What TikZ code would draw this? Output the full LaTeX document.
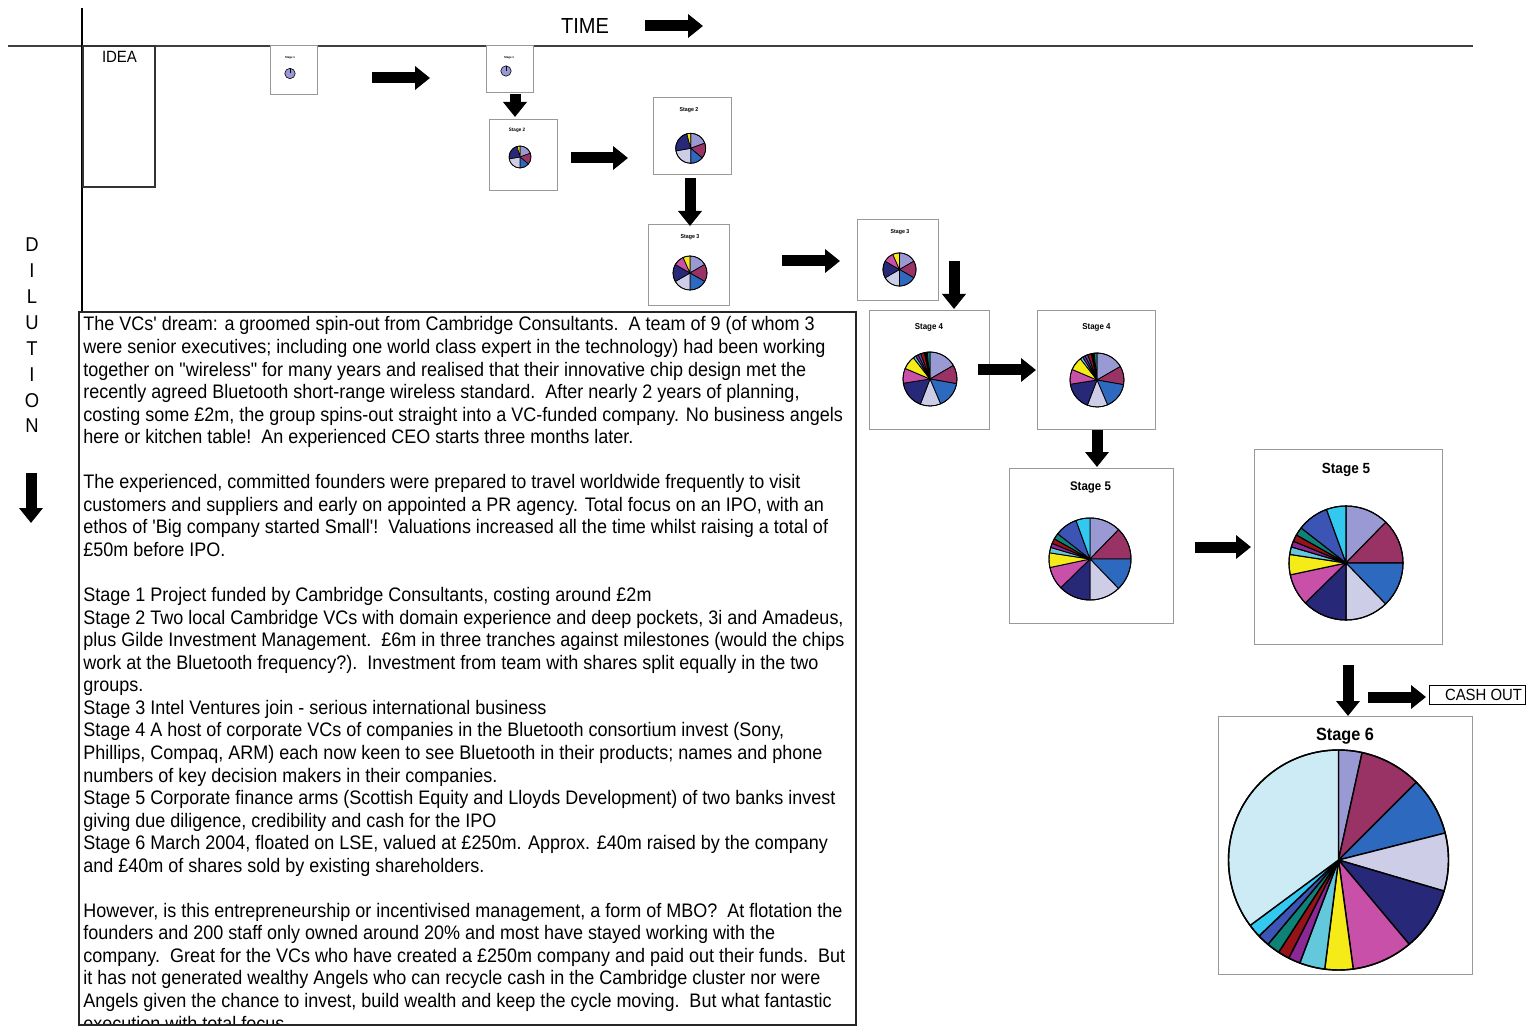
\documentclass[tikz,border=0pt]{standalone}
\usepackage{fontspec}
\setmainfont{Liberation Sans}[FakeStretch=0.92, Ligatures=TeXOff]
\usetikzlibrary{arrows.meta}
\definecolor{cA}{RGB}{153,153,212}
\definecolor{cB}{RGB}{153,51,102}
\definecolor{cC}{RGB}{45,105,190}
\definecolor{cD}{RGB}{205,205,232}
\definecolor{cE}{RGB}{40,40,120}
\definecolor{cF}{RGB}{200,80,168}
\definecolor{cG}{RGB}{245,235,25}
\definecolor{cH}{RGB}{100,200,220}
\definecolor{cI}{RGB}{140,40,150}
\definecolor{cJ}{RGB}{150,20,25}
\definecolor{cK}{RGB}{15,130,120}
\definecolor{cL}{RGB}{60,85,180}
\definecolor{cM}{RGB}{50,200,240}
\definecolor{cN}{RGB}{205,235,245}
\tikzset{
  stbox/.style={draw=black!40, line width=0.5pt, fill=white, inner sep=0pt},
  blk/.style={line width=5.5pt, -{Triangle[length=7.5pt,width=11.5pt]}},
  stlab/.style={inner sep=0pt, font=\bfseries\fontsize{#1}{#1}\selectfont},
  dil/.style={inner sep=0pt, font=\fontsize{10}{12}\selectfont},
  bodyline/.style={anchor=base west, inner sep=0pt, font=\fontsize{9.78}{11.27}\selectfont},
}
\newcommand\drawpie[4]{%
  \foreach \s/\e/\pc in #3 {%
    \filldraw[fill=\pc, draw=black, line width=#4, line join=round] (#1) -- ++(\s:#2) arc[start angle=\s, end angle=\e, radius=#2] -- cycle;
  }%
  \draw[line width=#4] (#1) circle[radius=#2];%
}
\def\pieSix{90/77.6/cA,77.6/45/cB,45/14.2/cC,14.2/-16.4/cD,-16.4/-50/cE,-50/-82.3/cF,-82.3/-97.2/cG,-97.2/-110.6/cH,-110.6/-116.9/cI,-116.9/-123/cJ,-123/-129.9/cK,-129.9/-136.3/cL,-136.3/-143.5/cM,-143.5/-270/cN}
\def\pieFive{90/45.7/cA,45.7/0/cB,0/-46/cC,-46/-90/cD,-90/-135.5/cE,-135.5/-168/cF,-168/-188.7/cG,-188.7/-196.4/cH,-196.4/-202.5/cI,-202.5/-209.5/cJ,-209.5/-218/cK,-218/-250/cL,-250/-270/cM}
\def\pieFour{90/30/cA,30/-10/cB,-10/-67/cC,-67/-111/cD,-111/-171/cE,-171/-203/cF,-203/-232/cG,-232/-238/cH,-238/-244/cI,-244/-250/cL,-250/-258/cJ,-258/-264/black,-264/-270/cK}
\def\pieThree{90/30/cA,30/-30/cB,-30/-90/cC,-90/-150/cD,-150/-210/cE,-210/-246/cF,-246/-270/cG}
\def\pieTwo{90/20/cA,20/-40/cB,-40/-90/cC,-90/-170/cD,-170/-255/cE,-255/-270/cG}
\begin{document}
\begin{tikzpicture}[x=0.5pt,y=-0.5pt]
\useasboundingbox[fill=white] (0,0) rectangle (1527,1027);

% axes
\coordinate (hl1) at (8,46);
\coordinate (hl2) at (1473,46);
\coordinate (vl1) at (82,8);
\coordinate (vl2) at (82,312);
\draw[line width=1pt, black!75] (hl1) -- (hl2);
\draw[line width=1pt, black] (vl1) -- (vl2);

% TIME
\node[inner sep=0pt, font=\fontsize{10.9}{13}\selectfont] (time) at (585,26) {TIME};
\coordinate (ta1) at (645,26);
\coordinate (ta2) at (703,26);
\draw[blk] (ta1) -- (ta2);

% DILUTION
\foreach \l [count=\i] in {D,I,L,U,T,I,O,N}
  \node[dil] (dil\i) at (32,{245+25.86*(\i-1)}) {\l};
\coordinate (da1) at (31,473);
\coordinate (da2) at (31,523);
\draw[blk] (da1) -- (da2);

% IDEA box
\node[draw=black!80, line width=0.6pt, inner sep=0pt, minimum width=36pt, minimum height=70.5pt] (idea) at (119,116.5) {};
\node[inner sep=0pt, font=\fontsize{8.15}{10}\selectfont] (ideaL) at (119.5,57) {IDEA};

% stage boxes
\node[stbox, minimum width=23.5pt, minimum height=24.5pt] (S1a) at (293.5,70.5) {};
\node[stbox, minimum width=23.5pt, minimum height=23.5pt] (S1b) at (509.5,69.5) {};
\node[stbox, minimum width=34pt, minimum height=35.5pt] (S2a) at (523,155.5) {};
\node[stbox, minimum width=39pt, minimum height=38.5pt] (S2b) at (692,136.5) {};
\node[stbox, minimum width=40.5pt, minimum height=40.5pt] (S3a) at (688.5,265.5) {};
\node[stbox, minimum width=40.5pt, minimum height=40.5pt] (S3b) at (897.5,260.5) {};
\node[stbox, minimum width=60pt, minimum height=59pt] (S4a) at (929,370) {};
\node[stbox, minimum width=59pt, minimum height=59pt] (S4b) at (1096,370) {};
\node[stbox, minimum width=82pt, minimum height=77.5pt] (S5a) at (1091,545.5) {};
\node[stbox, minimum width=94pt, minimum height=97.5pt] (S5b) at (1348,546.5) {};
\node[stbox, minimum width=127pt, minimum height=129pt] (S6) at (1345,845) {};

% stage labels
\node[stlab=1.5] (S1aL) at (290,58) {Stage 1};
\node[stlab=1.5] (S1bL) at (509,57.5) {Stage 1};
\node[stlab=2.45] (S2aL) at (517,130) {Stage 2};
\node[stlab=2.85] (S2bL) at (689,110) {Stage 2};
\node[stlab=2.85] (S3aL) at (690,237) {Stage 3};
\node[stlab=2.85] (S3bL) at (900,232.5) {Stage 3};
\node[stlab=4.3] (S4aL) at (929,327) {Stage 4};
\node[stlab=4.3] (S4bL) at (1096.5,327) {Stage 4};
\node[stlab=6.25] (S5aL) at (1090.5,487) {Stage 5};
\node[stlab=7.35] (S5bL) at (1346,470) {Stage 5};
\node[stlab=8.85] (S6L) at (1345,736) {Stage 6};

% pies
\coordinate (p1a) at (290,73.5);
\coordinate (p1b) at (506,71);
\coordinate (p2a) at (520,157);
\coordinate (p2b) at (690.7,148.3);
\coordinate (p3a) at (690,273);
\coordinate (p3b) at (899.5,269.5);
\coordinate (p4a) at (930,379);
\coordinate (p4b) at (1097,380);
\coordinate (p5a) at (1090,559);
\coordinate (p5b) at (1346,563);
\coordinate (p6) at (1338.5,860);
\filldraw[fill=cA, line width=0.3pt] (p1a) circle[radius=2.6pt];
\draw[line width=0.3pt] (p1a) -- ++(90:2.6pt);
\filldraw[fill=cA, line width=0.3pt] (p1b) circle[radius=2.6pt];
\draw[line width=0.3pt] (p1b) -- ++(90:2.6pt);
\drawpie{p2a}{5.5pt}{\pieTwo}{0.3pt}
\drawpie{p2b}{7.5pt}{\pieTwo}{0.35pt}
\drawpie{p3a}{8.5pt}{\pieThree}{0.35pt}
\drawpie{p3b}{8.3pt}{\pieThree}{0.35pt}
\drawpie{p4a}{13.5pt}{\pieFour}{0.4pt}
\drawpie{p4b}{13.5pt}{\pieFour}{0.4pt}
\drawpie{p5a}{20.5pt}{\pieFive}{0.45pt}
\drawpie{p5b}{28.5pt}{\pieFive}{0.55pt}
\drawpie{p6}{55pt}{\pieSix}{0.7pt}

% flow arrows
\coordinate (a1s) at (372,78);   \coordinate (a1e) at (430,78);
\coordinate (a2s) at (515,94);   \coordinate (a2e) at (515,117);
\coordinate (a3s) at (571,158);  \coordinate (a3e) at (628,158);
\coordinate (a4s) at (690,178);  \coordinate (a4e) at (690,226);
\coordinate (a5s) at (782,261);  \coordinate (a5e) at (840,261);
\coordinate (a6s) at (954,261);  \coordinate (a6e) at (954,309);
\coordinate (a7s) at (978,370);  \coordinate (a7e) at (1036,370);
\coordinate (a8s) at (1097,430); \coordinate (a8e) at (1097,467);
\coordinate (a9s) at (1195,547); \coordinate (a9e) at (1251,547);
\coordinate (a10s) at (1348,665); \coordinate (a10e) at (1348,716);
\coordinate (a11s) at (1368,697); \coordinate (a11e) at (1426,697);
\foreach \k in {1,...,11} \draw[blk] (a\k s) -- (a\k e);

% CASH OUT
\node[draw=black, line width=0.5pt, fill=white, inner sep=0pt, minimum width=48pt, minimum height=9.5pt] (cash) at (1477,694.5) {};
\node[inner sep=0pt, font=\fontsize{8.1}{10}\selectfont] (cashL) at (1483.5,694.5) {CASH OUT};

% text box
\begin{scope}
\clip (79,312) rectangle (856,1025);
\foreach \ln [count=\i] in {
{The VCs' dream: a groomed spin-out from Cambridge Consultants.\ \ A team of 9 (of whom 3},
{were senior executives; including one world class expert in the technology) had been working},
{together on "wireless" for many years and realised that their innovative chip design met the},
{recently agreed Bluetooth short-range wireless standard.\ \ After nearly 2 years of planning,},
{costing some £2m, the group spins-out straight into a VC-funded company. No business angels},
{here or kitchen table!\ \ An experienced CEO starts three months later.},
{},
{The experienced, committed founders were prepared to travel worldwide frequently to visit},
{customers and suppliers and early on appointed a PR agency. Total focus on an IPO, with an},
{ethos of 'Big company started Small'!\ \ Valuations increased all the time whilst raising a total of},
{£50m before IPO.},
{},
{Stage 1 Project funded by Cambridge Consultants, costing around £2m},
{Stage 2 Two local Cambridge VCs with domain experience and deep pockets, 3i and Amadeus,},
{plus Gilde Investment Management.\ \ £6m in three tranches against milestones (would the chips},
{work at the Bluetooth frequency?).\ \ Investment from team with shares split equally in the two},
{groups.},
{Stage 3 Intel Ventures join - serious international business},
{Stage 4 A host of corporate VCs of companies in the Bluetooth consortium invest (Sony,},
{Phillips, Compaq, ARM) each now keen to see Bluetooth in their products; names and phone},
{numbers of key decision makers in their companies.},
{Stage 5 Corporate finance arms (Scottish Equity and Lloyds Development) of two banks invest},
{giving due diligence, credibility and cash for the IPO},
{Stage 6 March 2004, floated on LSE, valued at £250m. Approx. £40m raised by the company},
{and £40m of shares sold by existing shareholders.},
{},
{However, is this entrepreneurship or incentivised management, a form of MBO?\ \ At flotation the},
{founders and 200 staff only owned around 20\% and most have stayed working with the},
{company.\ \ Great for the VCs who have created a £250m company and paid out their funds.\ \ But},
{it has not generated wealthy Angels who can recycle cash in the Cambridge cluster nor were},
{Angels given the chance to invest, build wealth and keep the cycle moving.\ \ But what fantastic},
{execution with total focus.}}
  \node[bodyline] (ln\i) at (83,{331+22.55*(\i-1)}) {\ln};
\end{scope}
\node[draw=black!85, line width=0.6pt, inner sep=0pt, minimum width=388.5pt, minimum height=356.5pt] (tbox) at (467.5,668.5) {};
\end{tikzpicture}
\end{document}
